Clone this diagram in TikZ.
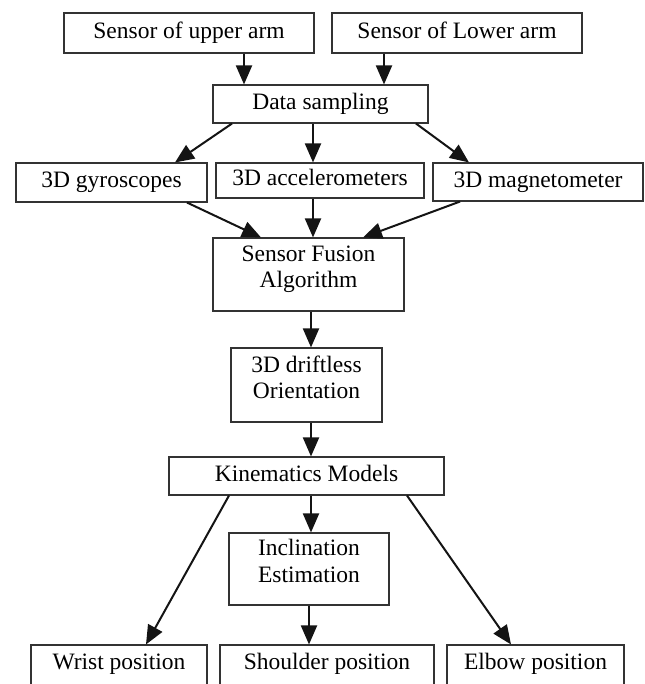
\documentclass[tikz,border=0pt]{standalone}
\usepackage{fontspec}
\setmainfont{Liberation Serif}
\usetikzlibrary{arrows.meta}
\begin{document}
\begin{tikzpicture}[x=1pt,y=-1pt,
  box/.style={draw=black!80, line width=1.1pt, inner sep=0pt, align=center,
    font=\fontsize{23.5}{26.5}\selectfont, text height=16pt, text depth=5pt},
  boxtwo/.style={draw=black!80, line width=1.1pt, inner sep=0pt, align=center,
    font=\fontsize{23.5}{26.5}\selectfont, text depth=16pt},
  boxlow/.style={box, text depth=11pt, minimum height=44pt},
  arr/.style={-{Triangle[length=19pt,width=16pt]}, line width=2pt, draw=black!92}]
\clip (0,0) rectangle (644,684);
\useasboundingbox (0,0) rectangle (644,684);
% boxes
\node[box, minimum width=250pt, minimum height=40pt] (up) at (189,33) {Sensor of upper arm};
\node[box, minimum width=250pt, minimum height=40pt] (low) at (457,33) {Sensor of Lower arm};
\node[box, minimum width=215pt, minimum height=38pt] (ds) at (320.5,104) {Data sampling};
\node[box, minimum width=191pt, minimum height=39pt] (gyro) at (111.5,182.5) {3D gyroscopes};
\node[box, minimum width=208pt, minimum height=35pt] (acc) at (320,180.5) {3D accelerometers};
\node[box, minimum width=210pt, minimum height=38pt] (mag) at (538,182) {3D magnetometer};
\node[boxtwo, minimum width=191pt, minimum height=73pt] (fus) at (308.5,274.5) {Sensor Fusion\\Algorithm};
\node[boxtwo, minimum width=151pt, minimum height=74pt] (ori) at (306.5,385) {3D driftless\\Orientation};
\node[box, minimum width=275pt, minimum height=38pt] (kin) at (306.5,476) {Kinematics Models};
\node[boxtwo, minimum width=160pt, minimum height=72pt] (inc) at (309,569) {Inclination\\Estimation};
\node[boxlow, minimum width=176pt] (wri) at (119,667) {Wrist position};
\node[boxlow, minimum width=214pt] (sho) at (327,667) {Shoulder position};
\node[boxlow, minimum width=177pt] (elb) at (535.5,667) {Elbow position};
% connectors
\draw[arr] ([xshift=55pt]up.south) -- ([xshift=-76.5pt]ds.north);
\draw[arr] ([xshift=-73pt]low.south) -- ([xshift=63.5pt]ds.north);
\draw[arr] ([xshift=-88.5pt]ds.south) -- ([xshift=63.5pt]gyro.north);
\draw[arr] ([xshift=-7.5pt]ds.south) -- ([xshift=-7pt]acc.north);
\draw[arr] ([xshift=95.5pt]ds.south) -- ([xshift=-69pt]mag.north);
\draw[arr] ([xshift=75.5pt]gyro.south) -- ([xshift=-47.5pt]fus.north);
\draw[arr] ([xshift=-7pt]acc.south) -- ([xshift=4.5pt]fus.north);
\draw[arr] ([xshift=-78pt]mag.south) -- ([xshift=54.5pt]fus.north);
\draw[arr] ([xshift=2.5pt]fus.south) -- ([xshift=4.5pt]ori.north);
\draw[arr] ([xshift=4.5pt]ori.south) -- ([xshift=4.5pt]kin.north);
\draw[arr] ([xshift=4.5pt]kin.south) -- ([xshift=2pt]inc.north);
\draw[arr] (inc.south) -- ([xshift=-18pt]sho.north);
\draw[arr] ([xshift=-77.5pt]kin.south) -- ([xshift=27pt]wri.north);
\draw[arr] ([xshift=100.5pt]kin.south) -- ([xshift=-24.5pt]elb.north);
\end{tikzpicture}
\end{document}
